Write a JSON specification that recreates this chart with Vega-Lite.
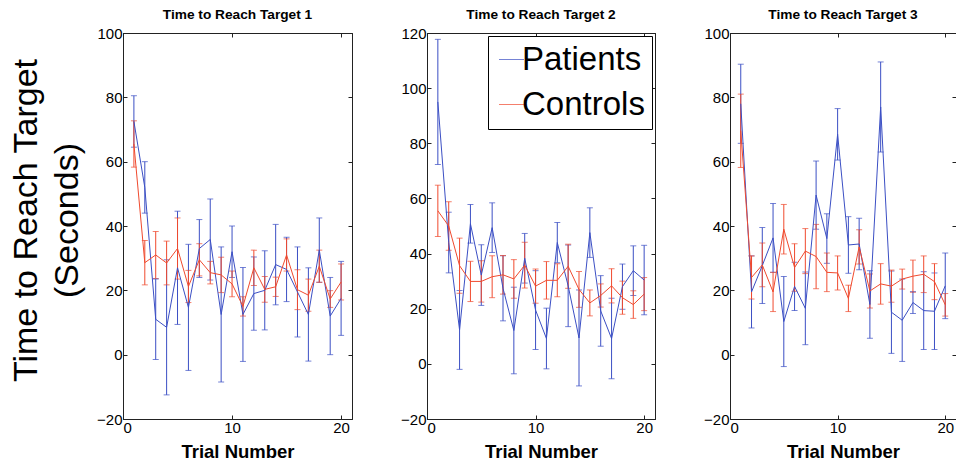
{
  "$schema": "https://vega.github.io/schema/vega-lite/v6.json",
  "background": "white",
  "padding": {"left": 9, "top": 7, "right": 0, "bottom": 0},
  "bounds": "flush",
  "spacing": 75,
  "resolve": {"scale": {"color": "independent"}, "legend": {"color": "independent"}},
  "datasets": {
    "t1": [
      {"group": "Patients", "trial": 1, "mean": 72.5, "err": 8},
      {"group": "Patients", "trial": 2, "mean": 52, "err": 8},
      {"group": "Patients", "trial": 3, "mean": 11, "err": 12.5},
      {"group": "Patients", "trial": 4, "mean": 8.5, "err": 21},
      {"group": "Patients", "trial": 5, "mean": 27, "err": 17.6},
      {"group": "Patients", "trial": 6, "mean": 14.7, "err": 19.6},
      {"group": "Patients", "trial": 7, "mean": 33, "err": 9},
      {"group": "Patients", "trial": 8, "mean": 35.8, "err": 12.6},
      {"group": "Patients", "trial": 9, "mean": 12.5, "err": 21},
      {"group": "Patients", "trial": 10, "mean": 32, "err": 8},
      {"group": "Patients", "trial": 11, "mean": 12.5, "err": 14.6},
      {"group": "Patients", "trial": 12, "mean": 19, "err": 11.4},
      {"group": "Patients", "trial": 13, "mean": 20, "err": 12.3},
      {"group": "Patients", "trial": 14, "mean": 28, "err": 12.5},
      {"group": "Patients", "trial": 15, "mean": 26.5, "err": 10},
      {"group": "Patients", "trial": 16, "mean": 19.5, "err": 14},
      {"group": "Patients", "trial": 17, "mean": 12.5, "err": 14.5},
      {"group": "Patients", "trial": 18, "mean": 32.5, "err": 10},
      {"group": "Patients", "trial": 19, "mean": 12, "err": 12},
      {"group": "Patients", "trial": 20, "mean": 17.5, "err": 11.5},
      {"group": "Controls", "trial": 1, "mean": 65.5, "err": 7.2},
      {"group": "Controls", "trial": 2, "mean": 28.6, "err": 6.9},
      {"group": "Controls", "trial": 3, "mean": 31, "err": 7.3},
      {"group": "Controls", "trial": 4, "mean": 28.5, "err": 6.8},
      {"group": "Controls", "trial": 5, "mean": 33, "err": 9.5},
      {"group": "Controls", "trial": 6, "mean": 21.2, "err": 5},
      {"group": "Controls", "trial": 7, "mean": 29.5, "err": 5},
      {"group": "Controls", "trial": 8, "mean": 25.5, "err": 3.5},
      {"group": "Controls", "trial": 9, "mean": 24.8, "err": 5.5},
      {"group": "Controls", "trial": 10, "mean": 22, "err": 4},
      {"group": "Controls", "trial": 11, "mean": 15, "err": 3},
      {"group": "Controls", "trial": 12, "mean": 27, "err": 5.5},
      {"group": "Controls", "trial": 13, "mean": 20.3, "err": 4},
      {"group": "Controls", "trial": 14, "mean": 21.1, "err": 3},
      {"group": "Controls", "trial": 15, "mean": 31, "err": 5},
      {"group": "Controls", "trial": 16, "mean": 20.2, "err": 6.2},
      {"group": "Controls", "trial": 17, "mean": 18.5, "err": 5},
      {"group": "Controls", "trial": 18, "mean": 27.5, "err": 5},
      {"group": "Controls", "trial": 19, "mean": 17.3, "err": 2.6},
      {"group": "Controls", "trial": 20, "mean": 22.6, "err": 5.6}
    ],
    "t2": [
      {"group": "Patients", "trial": 1, "mean": 95, "err": 22.7},
      {"group": "Patients", "trial": 2, "mean": 44, "err": 11},
      {"group": "Patients", "trial": 3, "mean": 12.3, "err": 14.3},
      {"group": "Patients", "trial": 4, "mean": 50.8, "err": 7},
      {"group": "Patients", "trial": 5, "mean": 32.2, "err": 11},
      {"group": "Patients", "trial": 6, "mean": 49.4, "err": 9},
      {"group": "Patients", "trial": 7, "mean": 27.4, "err": 11.8},
      {"group": "Patients", "trial": 8, "mean": 12.1, "err": 15.7},
      {"group": "Patients", "trial": 9, "mean": 38.3, "err": 9},
      {"group": "Patients", "trial": 10, "mean": 19.5, "err": 14.3},
      {"group": "Patients", "trial": 11, "mean": 9.2, "err": 11},
      {"group": "Patients", "trial": 12, "mean": 44, "err": 7.3},
      {"group": "Patients", "trial": 13, "mean": 28.3, "err": 14.8},
      {"group": "Patients", "trial": 14, "mean": 9.4, "err": 17.4},
      {"group": "Patients", "trial": 15, "mean": 47.6, "err": 9},
      {"group": "Patients", "trial": 16, "mean": 19.2, "err": 12.8},
      {"group": "Patients", "trial": 17, "mean": 9.2, "err": 14.6},
      {"group": "Patients", "trial": 18, "mean": 28, "err": 8.2},
      {"group": "Patients", "trial": 19, "mean": 33.8, "err": 9},
      {"group": "Patients", "trial": 20, "mean": 30.4, "err": 12.6},
      {"group": "Controls", "trial": 1, "mean": 55.5, "err": 9.3},
      {"group": "Controls", "trial": 2, "mean": 50, "err": 8.8},
      {"group": "Controls", "trial": 3, "mean": 35.6, "err": 10},
      {"group": "Controls", "trial": 4, "mean": 29.9, "err": 7.3},
      {"group": "Controls", "trial": 5, "mean": 29.9, "err": 7.5},
      {"group": "Controls", "trial": 6, "mean": 31.6, "err": 7.6},
      {"group": "Controls", "trial": 7, "mean": 32.3, "err": 7},
      {"group": "Controls", "trial": 8, "mean": 30.8, "err": 7},
      {"group": "Controls", "trial": 9, "mean": 35.8, "err": 8.3},
      {"group": "Controls", "trial": 10, "mean": 28.2, "err": 6.2},
      {"group": "Controls", "trial": 11, "mean": 30.3, "err": 6.8},
      {"group": "Controls", "trial": 12, "mean": 30.3, "err": 6},
      {"group": "Controls", "trial": 13, "mean": 35.4, "err": 8},
      {"group": "Controls", "trial": 14, "mean": 27, "err": 6.5},
      {"group": "Controls", "trial": 15, "mean": 22.1, "err": 4.7},
      {"group": "Controls", "trial": 16, "mean": 24.8, "err": 4.2},
      {"group": "Controls", "trial": 17, "mean": 28.3, "err": 6.2},
      {"group": "Controls", "trial": 18, "mean": 24, "err": 6},
      {"group": "Controls", "trial": 19, "mean": 21.5, "err": 5},
      {"group": "Controls", "trial": 20, "mean": 25.3, "err": 6}
    ],
    "t3": [
      {"group": "Patients", "trial": 1, "mean": 78, "err": 12.3},
      {"group": "Patients", "trial": 2, "mean": 19.5, "err": 11.2},
      {"group": "Patients", "trial": 3, "mean": 27.7, "err": 11.8},
      {"group": "Patients", "trial": 4, "mean": 36.3, "err": 10.7},
      {"group": "Patients", "trial": 5, "mean": 10.3, "err": 14},
      {"group": "Patients", "trial": 6, "mean": 21.2, "err": 7.5},
      {"group": "Patients", "trial": 7, "mean": 14.4, "err": 11.3},
      {"group": "Patients", "trial": 8, "mean": 49.6, "err": 10.6},
      {"group": "Patients", "trial": 9, "mean": 36.1, "err": 7.7},
      {"group": "Patients", "trial": 10, "mean": 68.5, "err": 8},
      {"group": "Patients", "trial": 11, "mean": 34.1, "err": 8.8},
      {"group": "Patients", "trial": 12, "mean": 34.4, "err": 8},
      {"group": "Patients", "trial": 13, "mean": 15.6, "err": 10.5},
      {"group": "Patients", "trial": 14, "mean": 77, "err": 14},
      {"group": "Patients", "trial": 15, "mean": 13.2, "err": 12.8},
      {"group": "Patients", "trial": 16, "mean": 10.7, "err": 12.8},
      {"group": "Patients", "trial": 17, "mean": 16.2, "err": 3.4},
      {"group": "Patients", "trial": 18, "mean": 13.7, "err": 12.1},
      {"group": "Patients", "trial": 19, "mean": 13.5, "err": 11.9},
      {"group": "Patients", "trial": 20, "mean": 21.4, "err": 10.2},
      {"group": "Controls", "trial": 1, "mean": 69.6, "err": 11.4},
      {"group": "Controls", "trial": 2, "mean": 24, "err": 6.7},
      {"group": "Controls", "trial": 3, "mean": 27.9, "err": 6.8},
      {"group": "Controls", "trial": 4, "mean": 19.5, "err": 6.1},
      {"group": "Controls", "trial": 5, "mean": 39, "err": 7.7},
      {"group": "Controls", "trial": 6, "mean": 27.1, "err": 7.4},
      {"group": "Controls", "trial": 7, "mean": 32.2, "err": 7},
      {"group": "Controls", "trial": 8, "mean": 30.5, "err": 10},
      {"group": "Controls", "trial": 9, "mean": 25.6, "err": 6},
      {"group": "Controls", "trial": 10, "mean": 25.4, "err": 5.3},
      {"group": "Controls", "trial": 11, "mean": 17.5, "err": 4.1},
      {"group": "Controls", "trial": 12, "mean": 33.5, "err": 5.3},
      {"group": "Controls", "trial": 13, "mean": 19.8, "err": 5.3},
      {"group": "Controls", "trial": 14, "mean": 22, "err": 6.3},
      {"group": "Controls", "trial": 15, "mean": 21.3, "err": 5},
      {"group": "Controls", "trial": 16, "mean": 23.5, "err": 3.1},
      {"group": "Controls", "trial": 17, "mean": 24.4, "err": 5},
      {"group": "Controls", "trial": 18, "mean": 25, "err": 5.7},
      {"group": "Controls", "trial": 19, "mean": 22.7, "err": 5.6},
      {"group": "Controls", "trial": 20, "mean": 15.5, "err": 3.5}
    ]
  },
  "hconcat": [
    {
      "width": 229, "height": 386,
      "title": "Time to Reach Target 1",
      "data": {"name": "t1"},
      "resolve": {"axis": {"x": "independent", "y": "independent"}},
      "encoding": {
        "color": {"field": "group", "type": "nominal", "scale": {"domain": ["Patients", "Controls"], "range": ["#3b4fc4", "#f04a2e"]}, "legend": null}
      },
      "layer": [
        {"mark": {"type": "errorbar", "ticks": {"size": 6}, "thickness": 1},
         "encoding": {
           "x": {"field": "trial", "type": "quantitative", "scale": {"domain": [0, 21], "nice": false}, "axis": {"values": [0, 10, 20], "title": "Trial Number"}},
           "y": {"field": "mean", "type": "quantitative", "scale": {"domain": [-20, 100], "nice": false}, "axis": {"values": [-20, 0, 20, 40, 60, 80, 100], "title": ["Time to Reach Target", "(Seconds)"], "titleFontSize": 34, "titleFontWeight": "normal", "titleLineHeight": 41, "titlePadding": 12, "titleY": 187}}, "yError": {"field": "err"}}},
        {"mark": {"type": "line", "strokeWidth": 1},
         "encoding": {
           "x": {"field": "trial", "type": "quantitative", "axis": {"orient": "top", "values": [0, 10, 20], "labels": false, "title": null}},
           "y": {"field": "mean", "type": "quantitative", "axis": {"orient": "right", "values": [-20, 0, 20, 40, 60, 80, 100], "labels": false, "title": null}}}}
      ]
    },
    {
      "width": 228, "height": 386,
      "title": "Time to Reach Target 2",
      "data": {"name": "t2"},
      "resolve": {"axis": {"x": "independent", "y": "independent"}},
      "encoding": {
        "color": {"field": "group", "type": "nominal", "scale": {"domain": ["Patients", "Controls"], "range": ["#3b4fc4", "#f04a2e"]},
          "legend": {"orient": "top-right", "offset": 3, "title": null, "symbolType": "stroke", "symbolSize": 625, "symbolStrokeWidth": 1, "labelFontSize": 33, "labelColor": "#000", "labelOffset": -6, "strokeColor": "#000", "padding": 7, "rowPadding": 11, "fillColor": "white", "labelLimit": 300}}
      },
      "layer": [
        {"mark": {"type": "errorbar", "ticks": {"size": 6}, "thickness": 1},
         "encoding": {
           "x": {"field": "trial", "type": "quantitative", "scale": {"domain": [0, 21], "nice": false}, "axis": {"values": [0, 10, 20], "title": "Trial Number"}},
           "y": {"field": "mean", "type": "quantitative", "scale": {"domain": [-20, 120], "nice": false}, "axis": {"values": [-20, 0, 20, 40, 60, 80, 100, 120], "title": null}}, "yError": {"field": "err"}}},
        {"mark": {"type": "line", "strokeWidth": 1},
         "encoding": {
           "x": {"field": "trial", "type": "quantitative", "axis": {"orient": "top", "values": [0, 10, 20], "labels": false, "title": null}},
           "y": {"field": "mean", "type": "quantitative", "axis": {"orient": "right", "values": [-20, 0, 20, 40, 60, 80, 100, 120], "labels": false, "title": null}}}}
      ]
    },
    {
      "width": 226, "height": 386,
      "title": "Time to Reach Target 3",
      "data": {"name": "t3"},
      "resolve": {"axis": {"x": "independent", "y": "independent"}},
      "encoding": {
        "color": {"field": "group", "type": "nominal", "scale": {"domain": ["Patients", "Controls"], "range": ["#3b4fc4", "#f04a2e"]}, "legend": null}
      },
      "layer": [
        {"mark": {"type": "errorbar", "ticks": {"size": 6}, "thickness": 1},
         "encoding": {
           "x": {"field": "trial", "type": "quantitative", "scale": {"domain": [0, 21], "nice": false}, "axis": {"values": [0, 10, 20], "title": "Trial Number"}},
           "y": {"field": "mean", "type": "quantitative", "scale": {"domain": [-20, 100], "nice": false}, "axis": {"values": [-20, 0, 20, 40, 60, 80, 100], "title": null}}, "yError": {"field": "err"}}},
        {"mark": {"type": "line", "strokeWidth": 1},
         "encoding": {
           "x": {"field": "trial", "type": "quantitative", "axis": {"orient": "top", "values": [0, 10, 20], "labels": false, "title": null}},
           "y": {"field": "mean", "type": "quantitative", "axis": {"orient": "right", "values": [-20, 0, 20, 40, 60, 80, 100], "labels": false, "title": null}}}}
      ]
    }
  ],
  "config": {
    "font": "Liberation Sans",
    "view": {"stroke": "#222", "strokeWidth": 1},
    "axis": {"labelFontSize": 15, "labelColor": "#000", "domainColor": "#222", "tickColor": "#222", "grid": false, "tickSize": -4, "labelPadding": 5, "titleFontSize": 18.5, "titleFontWeight": "bold", "titleColor": "#000", "titlePadding": 7, "labelFont": "Liberation Sans", "titleFont": "Liberation Sans"},
    "title": {"fontSize": 13.7, "fontWeight": "bold", "color": "#000", "offset": 4, "font": "Liberation Sans"},
    "legend": {"labelFont": "Liberation Sans"}
  }
}
